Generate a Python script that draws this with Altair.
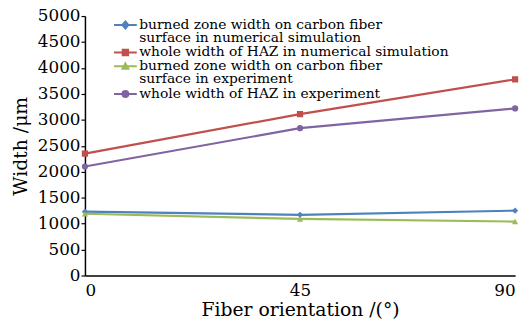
import altair as alt
import pandas as pd

orientation = [0, 45, 90]
burned_sim = [1230, 1170, 1250]
haz_sim = [2350, 3110, 3780]
burned_exp = [1190, 1090, 1040]
haz_exp = [2100, 2840, 3220]
series_names = [
    "burned zone width on carbon fiber\nsurface in numerical simulation",
    "whole width of HAZ in numerical simulation",
    "burned zone width on carbon fiber\nsurface in experiment",
    "whole width of HAZ in experiment",
]
colors = ["#4F81BD", "#C0504D", "#9BBB59", "#8064A2"]
shapes = ["diamond", "square", "triangle-up", "circle"]
legend_paths = [
    "M-2.3,0H2.3M0,-0.7L0.6,0L0,0.7L-0.6,0Z",
    "M-2.3,0H2.3M-0.55,-0.55H0.55V0.55H-0.55Z",
    "M-2.3,0H2.3M0,-0.6L0.6,0.5H-0.6Z",
    "M-2.3,0H2.3M-0.6,0A0.6,0.6,0,1,1,0.6,0A0.6,0.6,0,1,1,-0.6,0Z",
]

rows = []
for name, vals in zip(series_names, [burned_sim, haz_sim, burned_exp, haz_exp]):
    for x, v in zip(orientation, vals):
        rows.append({"series": name, "orientation": x, "width": v})
df = pd.DataFrame(rows)

W, H = 436, 263
FONT = "DejaVu Serif"

xscale = alt.Scale(domain=[0, 90], nice=False, zero=False)
yscale = alt.Scale(domain=[0, 5000], nice=False)

base = alt.Chart(df)

lines = base.mark_line(strokeWidth=2.2).encode(
    x=alt.X("orientation:Q", scale=xscale, axis=alt.Axis(
        values=orientation, title="Fiber orientation /(°)", ticks=False,
        labelPadding=7, titlePadding=3, format="d",
    )),
    y=alt.Y("width:Q", scale=yscale, axis=alt.Axis(
        values=list(range(0, 5001, 500)), title="Width /μm", format="d",
        tickSize=4, labelPadding=1, titlePadding=7,
    )),
    color=alt.Color("series:N", scale=alt.Scale(domain=series_names, range=colors), legend=None),
    detail="series:N",
)

points = base.mark_point(filled=True, size=40, opacity=1).encode(
    x=alt.X("orientation:Q", scale=xscale, axis=alt.Axis(
        orient="top", position=H, values=[45, 90], labels=False, domain=False,
        title=None, tickSize=5,
    )),
    y=alt.Y("width:Q", scale=yscale, axis=None),
    color=alt.Color("series:N", scale=alt.Scale(domain=series_names, range=colors), legend=None),
    shape=alt.Shape("series:N", scale=alt.Scale(domain=series_names, range=shapes), legend=None),
)

leg = alt.Legend(
    title=None, orient="none", legendX=34, legendY=2,
    labelExpr="split(datum.label, '\\n')", labelOffset=7,
    symbolOpacity=1, symbolSize=100, symbolStrokeWidth=2, rowPadding=-0.5,
    labelBaseline="middle",
)

legend_layer = base.mark_point(filled=True, opacity=0, size=100, strokeWidth=2).encode(
    x=alt.X("orientation:Q", scale=xscale, axis=None),
    y=alt.Y("width:Q", scale=yscale, axis=None),
    color=alt.Color("series:N", scale=alt.Scale(domain=series_names, range=colors), legend=leg),
    stroke=alt.Stroke("series:N", scale=alt.Scale(domain=series_names, range=colors), legend=leg),
    shape=alt.Shape("series:N", scale=alt.Scale(domain=series_names, range=legend_paths), legend=leg),
)

chart = alt.layer(lines, points, legend_layer).resolve_scale(
    shape="independent", color="independent", stroke="independent"
).resolve_axis(x="independent", y="independent").properties(
    width=W, height=H,
    autosize=alt.AutoSizeParams(type="none"),
    padding={"left": 78, "top": 6, "right": 8, "bottom": 48},
).configure_view(stroke=None).configure_axis(
    grid=False, domainColor="black", domainWidth=1.5, tickColor="black", tickWidth=1.2,
    labelFont=FONT, labelFontSize=17, labelColor="black",
    titleFont=FONT, titleFontSize=19, titleFontWeight="normal", titleColor="black",
).configure_legend(
    labelFont=FONT, labelFontSize=14, labelColor="black", labelLimit=0,
)
chart.config.style = {"guide-label": {"lineHeight": 13.3}}

chart.save("out.html", embed_options={"renderer": "svg", "actions": False})
